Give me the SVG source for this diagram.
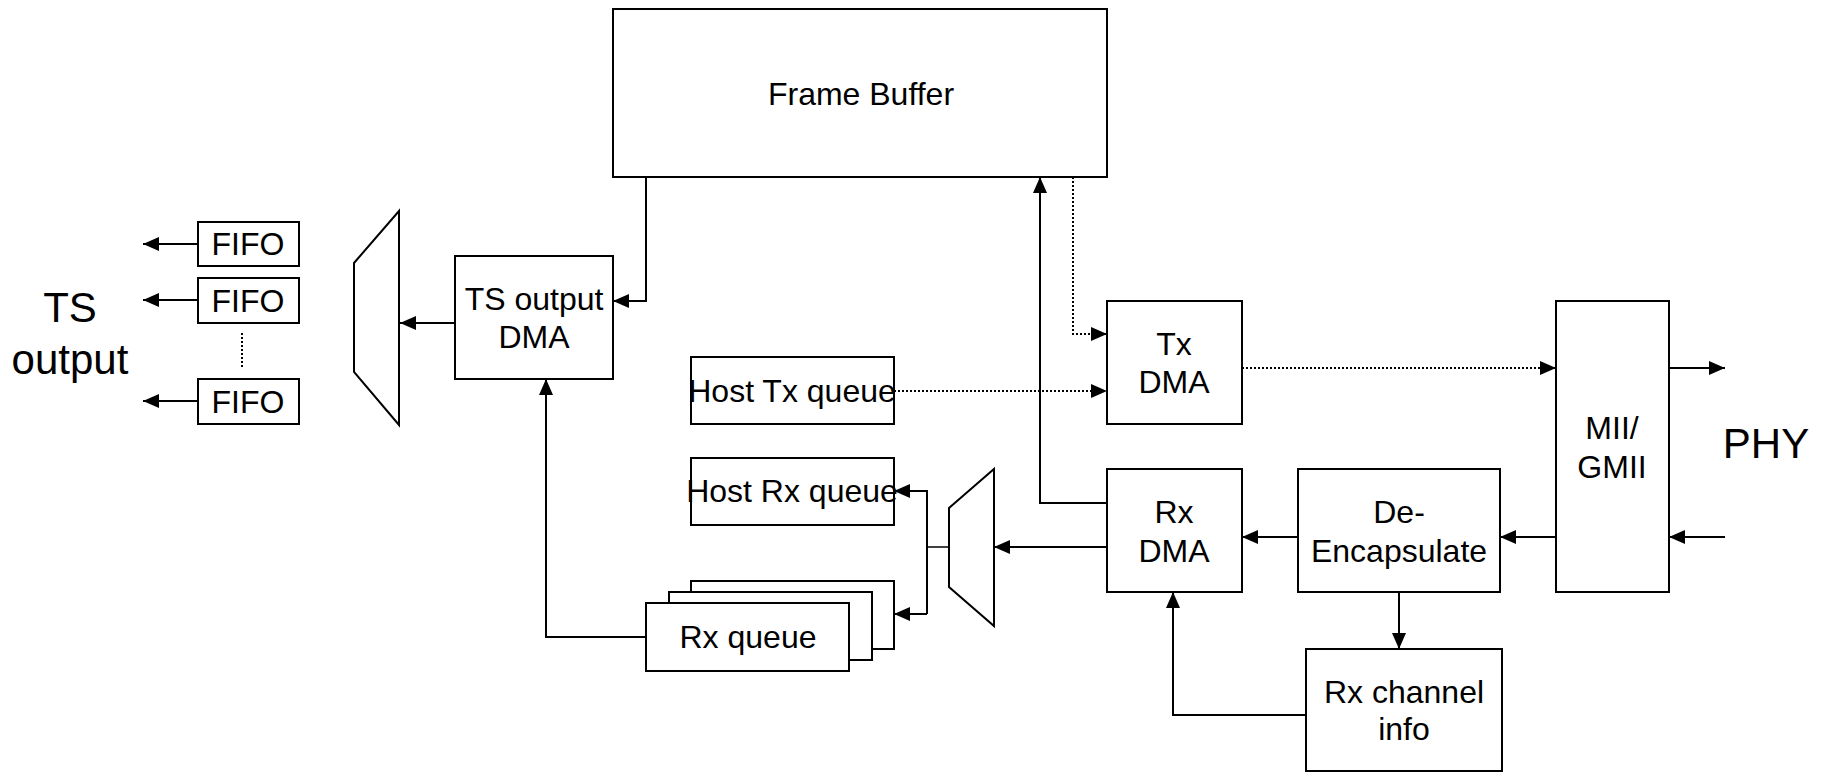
<svg xmlns="http://www.w3.org/2000/svg" width="1822" height="773" viewBox="0 0 1822 773">
<defs>
<marker id="arr" markerUnits="userSpaceOnUse" markerWidth="18" markerHeight="16" refX="16" refY="7" orient="auto">
<path d="M0,0 L16,7 L0,14 z" fill="#000"/>
</marker>
<style>
.box{fill:#fff;stroke:#000;stroke-width:2}
.t{font-family:"Liberation Sans",Arial,sans-serif;font-size:32px;fill:#000;text-anchor:middle}
.big{font-family:"Liberation Sans",Arial,sans-serif;font-size:42px;fill:#000;text-anchor:middle}
.c{fill:none;stroke:#000;stroke-width:2}
.thin{fill:none;stroke:#000;stroke-width:1.5}
.dot{fill:none;stroke:#000;stroke-width:2;stroke-dasharray:2 2}
</style>
</defs>
<rect width="1822" height="773" fill="#fff"/>

<g id="connectors">
<path class="c" d="M646,177 V301 H613" marker-end="url(#arr)"/>
<path class="c" d="M646,637 H546 V379" marker-end="url(#arr)"/>
<path class="c" d="M455,323 H400" marker-end="url(#arr)"/>
<path class="c" d="M198,244 H143" marker-end="url(#arr)"/>
<path class="c" d="M198,300 H143" marker-end="url(#arr)"/>
<path class="c" d="M198,401 H143" marker-end="url(#arr)"/>
<path class="dot" d="M242,333 V368" stroke-width="1.5"/>
<path class="dot" d="M894,391 H1107" marker-end="url(#arr)"/>
<path class="dot" d="M1073,177 V334 H1107" marker-end="url(#arr)"/>
<path class="dot" d="M1242,368 H1556" marker-end="url(#arr)"/>
<path class="c" d="M1669,368 H1725" marker-end="url(#arr)"/>
<path class="c" d="M1725,537 H1669" marker-end="url(#arr)"/>
<path class="c" d="M1556,537 H1500" marker-end="url(#arr)"/>
<path class="c" d="M1298,537 H1242" marker-end="url(#arr)"/>
<path class="c" d="M1399,592 V649" marker-end="url(#arr)"/>
<path class="c" d="M1306,715 H1173 V592" marker-end="url(#arr)"/>
<path class="c" d="M1107,503 H1040 V177" marker-end="url(#arr)"/>
<path class="c" d="M1107,547 H994" marker-end="url(#arr)"/>
<path class="thin" d="M949,547 H927"/>
<path class="c" d="M927,614 V491 H894" marker-end="url(#arr)"/>
<path class="c" d="M927,614 H894" marker-end="url(#arr)"/>
</g>

<g id="frame-buffer">
<rect class="box" x="613" y="9" width="494" height="168"/>
<text class="t" x="861" y="105">Frame Buffer</text>
</g>

<g id="ts-output-label">
<text class="big" x="70" y="322">TS</text>
<text class="big" x="70" y="374">output</text>
</g>

<g id="fifo1">
<rect class="box" x="198" y="222" width="101" height="44"/>
<text class="t" x="248" y="255">FIFO</text>
</g>
<g id="fifo2">
<rect class="box" x="198" y="278" width="101" height="45"/>
<text class="t" x="248" y="312">FIFO</text>
</g>
<g id="fifo3">
<rect class="box" x="198" y="379" width="101" height="45"/>
<text class="t" x="248" y="413">FIFO</text>
</g>

<g id="mux-out">
<polygon class="box" points="354,263 399,211 399,425 354,372"/>
</g>

<g id="ts-output-dma">
<rect class="box" x="455" y="256" width="158" height="123"/>
<text class="t" x="534" y="310">TS output</text>
<text class="t" x="534" y="348">DMA</text>
</g>

<g id="host-tx-queue">
<rect class="box" x="691" y="357" width="203" height="67"/>
<text class="t" x="792" y="402">Host Tx queue</text>
</g>

<g id="host-rx-queue">
<rect class="box" x="691" y="458" width="203" height="67"/>
<text class="t" x="792" y="502">Host Rx queue</text>
</g>

<g id="rx-queue">
<rect class="box" x="691" y="581" width="203" height="68"/>
<rect class="box" x="669" y="592" width="203" height="68"/>
<rect class="box" x="646" y="603" width="203" height="68"/>
<text class="t" x="748" y="648">Rx queue</text>
</g>

<g id="mux-rx">
<polygon class="box" points="949,508 994,469 994,626 949,587"/>
</g>

<g id="tx-dma">
<rect class="box" x="1107" y="301" width="135" height="123"/>
<text class="t" x="1174" y="355">Tx</text>
<text class="t" x="1174" y="393">DMA</text>
</g>

<g id="rx-dma">
<rect class="box" x="1107" y="469" width="135" height="123"/>
<text class="t" x="1174" y="523">Rx</text>
<text class="t" x="1174" y="562">DMA</text>
</g>

<g id="de-encapsulate">
<rect class="box" x="1298" y="469" width="202" height="123"/>
<text class="t" x="1399" y="523">De-</text>
<text class="t" x="1399" y="562">Encapsulate</text>
</g>

<g id="rx-channel-info">
<rect class="box" x="1306" y="649" width="196" height="122"/>
<text class="t" x="1404" y="703">Rx channel</text>
<text class="t" x="1404" y="740">info</text>
</g>

<g id="mii-gmii">
<rect class="box" x="1556" y="301" width="113" height="291"/>
<text class="t" x="1612" y="439">MII/</text>
<text class="t" x="1612" y="478">GMII</text>
</g>

<g id="phy-label">
<text class="big" x="1766" y="458">PHY</text>
</g>
</svg>
